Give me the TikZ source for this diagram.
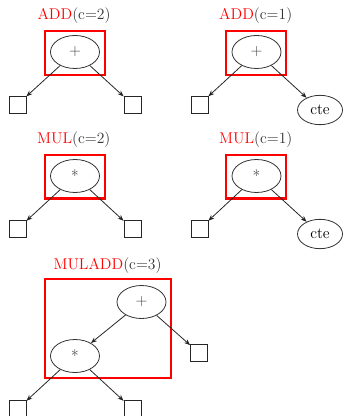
\documentclass[tikz,border=0pt]{standalone}
\usetikzlibrary{shapes.geometric,arrows.meta}
\begin{document}
\begin{tikzpicture}[x=0.75pt,y=-0.75pt,
  font=\fontsize{11.7}{14}\selectfont,
  opnode/.style={ellipse,draw=black!80,line width=0.6pt,minimum width=36.75pt,minimum height=24.75pt,inner sep=0pt,text=black!75},
  ctenode/.style={ellipse,draw=black!80,line width=0.6pt,minimum width=33.75pt,minimum height=22pt,inner sep=0pt},
  leaf/.style={rectangle,draw=black!85,line width=0.6pt,minimum size=12.75pt,inner sep=0pt},
  redbox/.style={draw=red,line width=1.5pt},
  title/.style={anchor=base,inner sep=0pt,text=black!80},
  arr/.style={-{Stealth[length=4.5pt,width=3.5pt]},draw=black!85,line width=0.6pt}]
\useasboundingbox (0,0) rectangle (344,416);

% ADD (c=2)
\node[title] (t1) at (74,19.5) {\textcolor{red}{ADD}(c=2)};
\draw[redbox] (44.5,31) rectangle (105,75);
\node[opnode] (e1) at (75,52) {+};
\node[leaf] (s1a) at (17.5,104.5) {};
\node[leaf] (s1b) at (132.5,104.5) {};
\draw[arr] (e1) -- (s1a);
\draw[arr] (e1) -- (s1b);

% ADD (c=1)
\node[title] (t2) at (255.7,19.5) {\textcolor{red}{ADD}(c=1)};
\draw[redbox] (226,31) rectangle (286,75);
\node[opnode] (e2) at (256.5,52) {+};
\node[leaf] (s2a) at (199.5,104.5) {};
\node[ctenode] (c2) at (320,110) {cte};
\draw[arr] (e2) -- (s2a);
\draw[arr] (e2) -- (c2);

% MUL (c=2)
\node[title] (t3) at (73.8,144) {\textcolor{red}{MUL}(c=2)};
\draw[redbox] (44.5,155) rectangle (105,198.5);
\node[opnode] (e3) at (75,176) {*};
\node[leaf] (s3a) at (17.5,229) {};
\node[leaf] (s3b) at (132.5,229) {};
\draw[arr] (e3) -- (s3a);
\draw[arr] (e3) -- (s3b);

% MUL (c=1)
\node[title] (t4) at (255.8,144) {\textcolor{red}{MUL}(c=1)};
\draw[redbox] (226,155) rectangle (286,198.5);
\node[opnode] (e4) at (256.5,176) {*};
\node[leaf] (s4a) at (199.5,229) {};
\node[ctenode] (c4) at (320,234) {cte};
\draw[arr] (e4) -- (s4a);
\draw[arr] (e4) -- (c4);

% MULADD (c=3)
\node[title] (t5) at (107.5,269) {\textcolor{red}{MULADD}(c=3)};
\draw[redbox] (45,279) rectangle (171,378);
\node[opnode] (ep) at (141.5,302) {+};
\node[opnode] (em) at (75,356) {*};
\node[leaf] (s5r) at (199,353) {};
\node[leaf] (s5a) at (17.5,409) {};
\node[leaf] (s5b) at (132.5,409) {};
\draw[arr] (ep) -- (em);
\draw[arr] (ep) -- (s5r);
\draw[arr] (em) -- (s5a);
\draw[arr] (em) -- (s5b);
\end{tikzpicture}
\end{document}
